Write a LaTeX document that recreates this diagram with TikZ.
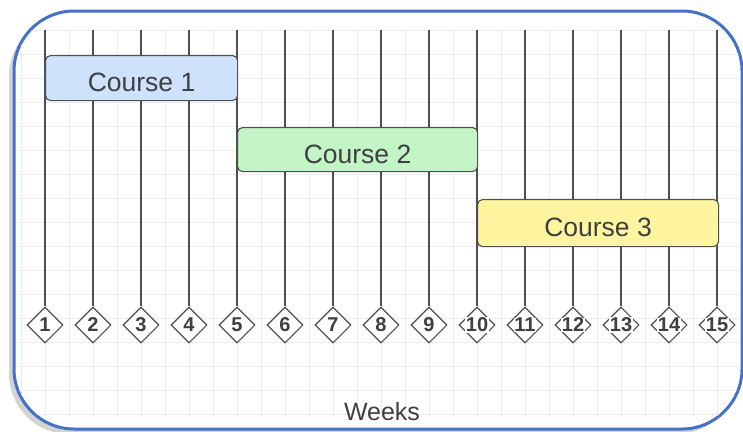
\documentclass[tikz,border=0pt]{standalone}
\usepackage{fontspec}
\setmainfont{Liberation Sans}
\usetikzlibrary{shapes.geometric,shadows}

\definecolor{framecol}{HTML}{4472C4}
\definecolor{gridcol}{HTML}{ECECEC}
\definecolor{linecol}{HTML}{505050}
\definecolor{textcol}{HTML}{3C4043}
\definecolor{blueboxcol}{HTML}{CFE2FC}
\definecolor{greenboxcol}{HTML}{C3F4C6}
\definecolor{yellowboxcol}{HTML}{FFF5A0}

\tikzset{
    gridline/.style={gridcol, line width=0.7pt},
    weekline/.style={linecol, line width=1.2pt},
    coursebox/.style={draw=linecol, line width=1.1pt, rounded corners=5pt,
        anchor=north west, text=textcol, text height=27pt, text depth=0pt,
        font=\fontsize{26.5}{30}\selectfont},
    weekmark/.style={diamond, draw=linecol, line width=1.1pt, fill=white,
        minimum width=36pt, minimum height=36pt, inner sep=0pt},
    weeknum/.style={fill=white, inner sep=0.5pt, text=textcol,
        font=\fontsize{20}{22}\selectfont\bfseries}
}

\begin{document}
\begin{tikzpicture}[x=1pt, y=-1pt]
        \useasboundingbox (0,0) rectangle (743,431);
        \clip (0,0) rectangle (743,431);

        % Frame with shadow
        \draw[framecol, line width=3pt, rounded corners=60pt, fill=white,
            drop shadow={shadow xshift=-5pt, shadow yshift=-5pt, opacity=0.35}]
            (14,11) rectangle (742,429);

        % Background grid
        \begin{scope}
            \clip[rounded corners=58pt] (15.5,12.5) rectangle (740.5,427.5);
            \foreach \gx in {21,45,...,741}
                \draw[gridline] (\gx,28) -- (\gx,416);
            \foreach \gy in {30,54,...,414}
                \draw[gridline] (18,\gy) -- (740,\gy);
        \end{scope}

        % Week lines and markers
        \foreach \w in {1,...,15} {
            \coordinate (top\w) at ({45+48*(\w-1)},30);
            \node[weekmark] (mark\w) at ({45+48*(\w-1)},325) {};
            \draw[weekline] (top\w) -- (mark\w.north);
            \node[weeknum] (num\w) at (mark\w.center) {\w};
        }

        % Courses
        \node[coursebox, fill=blueboxcol, minimum width=192pt, minimum height=45pt]
            (course1) at (45,55) {Course 1};
        \node[coursebox, fill=greenboxcol, minimum width=240pt, minimum height=44pt]
            (course2) at (237,127) {Course 2};
        \node[coursebox, fill=yellowboxcol, minimum width=241pt, minimum height=47pt]
            (course3) at (477,199) {Course 3};

        % Axis label
        \node[text=textcol, font=\fontsize{25}{30}\selectfont] (weeks) at (382,412) {Weeks};
    \end{tikzpicture}
\end{document}
